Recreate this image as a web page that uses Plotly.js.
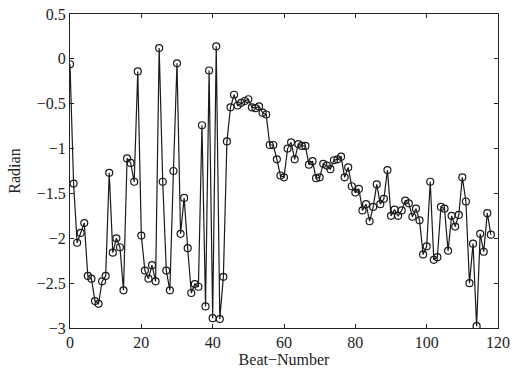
<!DOCTYPE html>
<html>
<head>
<meta charset="utf-8">
<script src="https://cdn.plot.ly/plotly-3.0.1.min.js"></script>
<style>html,body{margin:0;padding:0;background:#fff;}#chart{width:515px;height:369px;}</style>
</head>
<body>
<div id="chart"></div>
<script>
// Radian value for each beat (beat numbers 0..118)
const radian = [
  -0.06, -1.39, -2.05, -1.94, -1.83, -2.42, -2.45, -2.70, -2.73, -2.48,
  -2.42, -1.27, -2.16, -2.00, -2.10, -2.58, -1.11, -1.16, -1.37, -0.14,
  -1.97, -2.36, -2.45, -2.30, -2.48, 0.12, -1.37, -2.36, -2.58, -1.25,
  -0.05, -1.95, -1.55, -2.11, -2.61, -2.51, -2.54, -0.74, -2.76, -0.13,
  -2.89, 0.14, -2.90, -2.43, -0.92, -0.54, -0.40, -0.52, -0.49, -0.47,
  -0.45, -0.54, -0.55, -0.53, -0.60, -0.62, -0.96, -0.96, -1.12, -1.30,
  -1.32, -1.00, -0.93, -1.12, -0.95, -0.97, -0.97, -1.18, -1.14, -1.33,
  -1.32, -1.17, -1.19, -1.23, -1.13, -1.12, -1.09, -1.32, -1.21, -1.42,
  -1.49, -1.45, -1.69, -1.62, -1.81, -1.65, -1.40, -1.62, -1.56, -1.24,
  -1.75, -1.68, -1.75, -1.69, -1.58, -1.61, -1.76, -1.67, -1.80, -2.18,
  -2.09, -1.37, -2.24, -2.21, -1.65, -1.67, -2.14, -1.75, -1.87, -1.74,
  -1.32, -1.59, -2.50, -2.06, -2.98, -1.95, -2.15, -1.72, -1.96
];
const beats = radian.map((_, i) => i);
const xTicks = [0, 20, 40, 60, 80, 100, 120];
const yTicks = [-3, -2.5, -2, -1.5, -1, -0.5, 0, 0.5];
const yTickText = ['\u22123', '\u22122.5', '\u22122', '\u22121.5', '\u22121', '\u22120.5', '0', '0.5'];

const font = {family: '"Liberation Serif", "Times New Roman", serif', size: 16, color: '#222'};

Plotly.newPlot('chart', [{
  x: beats,
  y: radian,
  type: 'scatter',
  mode: 'lines+markers',
  line: {color: '#1a1a1a', width: 1.2},
  marker: {symbol: 'circle-open', size: 7, color: '#1a1a1a', line: {width: 1.2, color: '#1a1a1a'}},
  hoverinfo: 'x+y'
}], {
  width: 515, height: 369,
  margin: {l: 70, r: 17, t: 14, b: 41},
  paper_bgcolor: '#fff', plot_bgcolor: '#fff',
  showlegend: false,
  font: font,
  xaxis: {
    range: [0, 120], tickvals: xTicks, ticktext: xTicks.map(String),
    ticks: 'inside', ticklen: 4, tickcolor: '#222', mirror: 'ticks',
    showline: true, linecolor: '#222', linewidth: 1, showgrid: false, zeroline: false,
    tickfont: font,
    title: {text: 'Beat\u2212Number', font: font, standoff: 0}
  },
  yaxis: {
    range: [-3, 0.5], tickvals: yTicks, ticktext: yTickText,
    ticks: 'inside', ticklen: 4, tickcolor: '#222', mirror: 'ticks',
    showline: true, linecolor: '#222', linewidth: 1, showgrid: false, zeroline: false,
    tickfont: font,
    title: {text: 'Radian', font: font, standoff: 12}
  }
}, {displayModeBar: false, staticPlot: true});
</script>
</body>
</html>
